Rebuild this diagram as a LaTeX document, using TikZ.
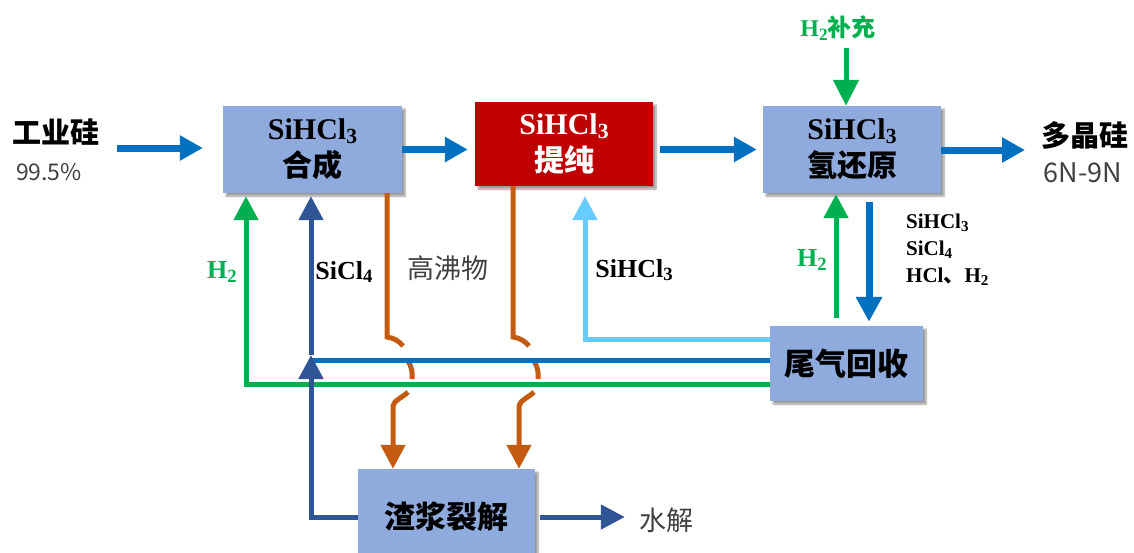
\documentclass[tikz,border=0pt]{standalone}
\usepackage{fontspec}
\usepackage{graphicx}
\setmainfont{Liberation Serif}
\newfontfamily\cjk{Noto Sans CJK SC}
\usetikzlibrary{arrows.meta,shadows.blur,calc}
\newcommand{\csub}[1]{\raisebox{-0.14em}{\scalebox{0.72}{#1}}}
\definecolor{boxblue}{HTML}{8FAADC}
\definecolor{boxred}{HTML}{C00000}
\definecolor{mainblue}{HTML}{0070C0}
\definecolor{dkblue}{HTML}{2F5597}
\definecolor{ltblue}{HTML}{66CCFF}
\definecolor{grn}{HTML}{00B050}
\definecolor{org}{HTML}{C55A11}
\definecolor{txtgray}{HTML}{404040}
\begin{document}
\begin{tikzpicture}[x=1pt,y=-1pt,
  proc/.style={fill=boxblue, inner sep=0pt, align=center,
    blur shadow={shadow xshift=3pt,shadow yshift=-3pt,shadow blur steps=6,shadow opacity=40},
    font=\fontsize{30}{37}\selectfont},
  big/.style={line width=7pt, mainblue, -{Triangle[length=23pt,width=24pt]}},
  thinarr/.style={line width=5pt, -{Triangle[length=24pt,width=24pt]}},
  thinline/.style={line width=5pt},
  orng/.style={line width=5pt, org},
  chem/.style={font=\fontsize{26}{30}\selectfont\bfseries},
  smallchem/.style={font=\fontsize{21}{27}\selectfont\bfseries, align=left},
  cnb/.style={font=\fontsize{29}{34}\selectfont\cjk\bfseries},
  cnr/.style={font=\fontsize{27}{32}\selectfont\cjk, text=txtgray},
  lbl/.style={inner sep=0pt}
]
\clip (0,0) rectangle (1134,552);
\useasboundingbox (0,0) rectangle (1134,552);

% process boxes
\node[proc, minimum width=179pt, minimum height=87pt] (hc) at (312.5,149.5)
  {\bfseries SiHCl\csub{3}\\{\cjk\bfseries 合成}};
\node[proc, fill=boxred, text=white, minimum width=178pt, minimum height=84pt] (tc) at (564,144)
  {\bfseries SiHCl\csub{3}\\{\cjk\bfseries 提纯}};
\node[proc, minimum width=178pt, minimum height=87pt] (qc) at (852,149.5)
  {\bfseries SiHCl\csub{3}\\{\cjk\bfseries 氢还原}};
\node[proc, minimum width=153pt, minimum height=75pt, font=\fontsize{31}{36}\selectfont\cjk\bfseries] (wq) at (846.5,363.5) {尾气回收};
\node[proc, minimum width=177pt, minimum height=96pt, font=\fontsize{31}{36}\selectfont\cjk\bfseries] (zj) at (446.5,517) {渣浆裂解};

% side labels
\node[lbl, cnb] (gy) at (56,132) {工业硅};
\node[lbl, font=\fontsize{23}{28}\selectfont\cjk, text=txtgray] (gyp) at (49,172) {99.5\%};
\node[lbl, cnb] (dj) at (1085,135) {多晶硅};
\node[lbl, font=\fontsize{27}{30}\selectfont\cjk, text=txtgray] (djp) at (1083,173) {6N-9N};
\node[lbl, font=\fontsize{24}{28}\selectfont\bfseries, text=grn] (h2s) at (838,28) {H\csub{2}{\cjk\bfseries 补充}};
\node[lbl, cnr] (sj) at (666,520) {水解};

% main flow arrows
\coordinate (a0) at (117,148);
\draw[big, shorten >=20pt] (a0) -- (hc.west |- a0);
\draw[big, shorten >=7pt] (hc.east) -- (tc.west |- hc.east);
\draw[big, shorten <=7pt, shorten >=6pt] (tc.east |- hc.east) -- (qc.west);
\coordinate (a4) at (1025,150);
\draw[big] (qc.east |- a4) -- (a4);

% H2 supply
\coordinate (hb) at (846,48);
\draw[thinarr, grn, -{Triangle[length=26pt,width=25pt]}] (hb) -- (qc.north -| hb);

% between qc and wq
\coordinate (gu) at (836,318);
\draw[thinarr, grn, shorten >=1pt] (gu) -- (qc.south -| gu);
\coordinate (bd) at (869,202);
\draw[line width=7pt, mainblue, -{Triangle[length=25pt,width=25pt]}, shorten >=4pt] (bd) -- (wq.north -| bd);
\node[lbl, chem, text=grn] (h2r) at (812,260) {H\csub{2}};
\node[smallchem, anchor=north west, inner sep=0pt] (gasl) at (906,214)
  {SiHCl\csub{3}\\SiCl\csub{4}\\HCl{\cjk 、}H\csub{2}};

% orange high-boiling streams
\coordinate (o1) at (387,337);
\coordinate (o2) at (513,337);
\draw[orng] (hc.south -| o1) -- (o1) .. controls ($(o1)+(7,1)$) and ($(o1)+(12,4)$) .. ($(o1)+(16,9)$);
\draw[orng] ($(o1)+(21,24)$) .. controls ($(o1)+(24,29)$) and ($(o1)+(26,35)$) .. ($(o1)+(25,42)$);
\coordinate (o1e) at ($(o1)+(6,69)$);
\draw[orng, -{Triangle[length=24pt,width=24pt]}] ($(o1)+(21,55)$) .. controls ($(o1)+(15,61)$) and ($(o1)+(7,63)$) .. (o1e) -- (zj.north -| o1e);
\draw[orng] (tc.south -| o2) -- (o2) .. controls ($(o2)+(7,1)$) and ($(o2)+(12,4)$) .. ($(o2)+(16,9)$);
\draw[orng] ($(o2)+(21,24)$) .. controls ($(o2)+(24,29)$) and ($(o2)+(26,35)$) .. ($(o2)+(25,42)$);
\coordinate (o2e) at ($(o2)+(6,69)$);
\draw[orng, -{Triangle[length=24pt,width=24pt]}] ($(o2)+(21,55)$) .. controls ($(o2)+(15,61)$) and ($(o2)+(7,63)$) .. (o2e) -- (zj.north -| o2e);

% recycle lines
\coordinate (gc) at (246,384);
\draw[thinarr, grn, shorten >=3pt] (wq.west |- gc) -- (gc) -- (hc.south -| gc);
\coordinate (lc) at (585,339);
\draw[thinarr, ltblue, shorten >=10pt] (wq.west |- lc) -- (lc) -- (tc.south -| lc);
\coordinate (bj) at (311,360);
\draw[thinline, mainblue] (wq.west |- bj) -- (bj);
\coordinate (jt) at (311,355);
\draw[thinarr, dkblue] (zj.west) -| (jt);
\draw[thinarr, dkblue, shorten >=3pt] (jt) -- (hc.south -| jt);
\draw[thinarr, dkblue, shorten <=5pt, shorten >=14pt] (zj.east) -- (sj.west |- zj.east);

% stream labels
\node[lbl, chem, text=grn] (h2l) at (222,272) {H\csub{2}};
\node[lbl, chem] (sicl4) at (344,272) {SiCl\csub{4}};
\node[lbl, cnr] (gff) at (448,268) {高沸物};
\node[lbl, chem] (sihcl3) at (634,270) {SiHCl\csub{3}};
\end{tikzpicture}
\end{document}
